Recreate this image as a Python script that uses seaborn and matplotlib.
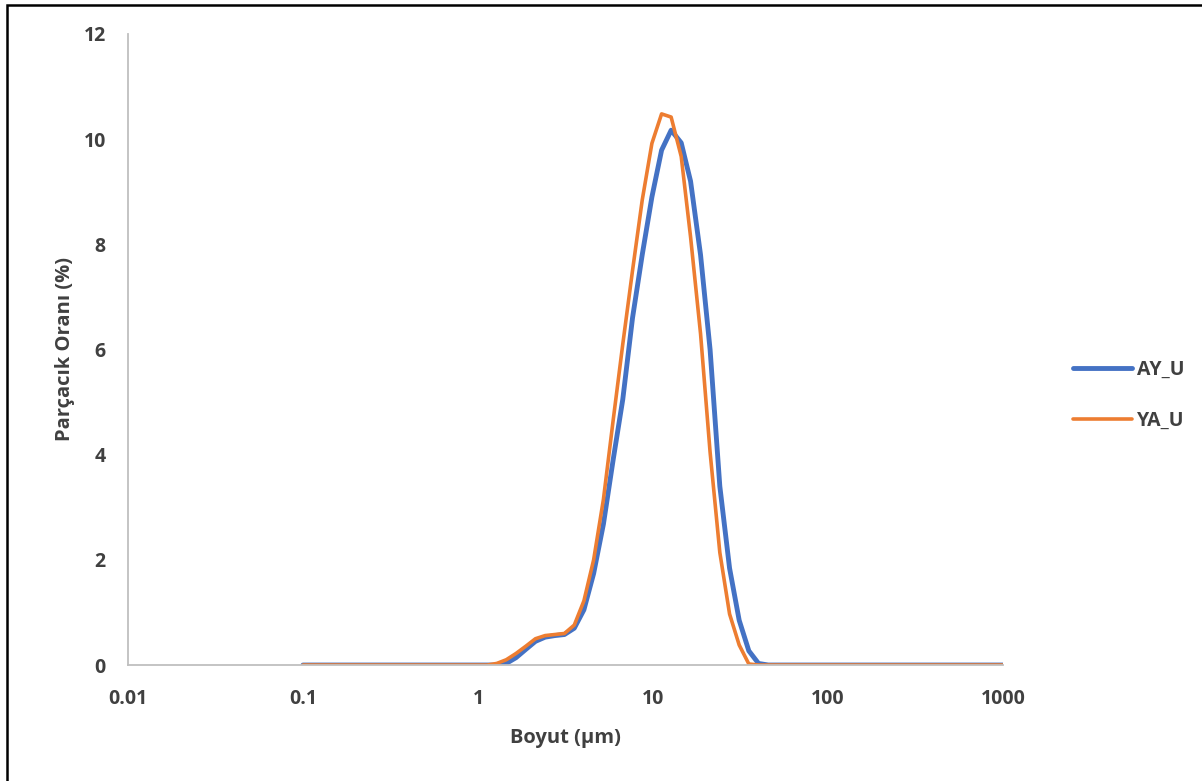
import numpy as np
import pandas as pd
import matplotlib
matplotlib.use("Agg")
import matplotlib.pyplot as plt
from matplotlib.patches import Rectangle
import seaborn as sns

# particle size classes (um) and volume fraction (%)
size_um = [0.1, 0.2, 0.5, 1.0, 1.13, 1.28, 1.45, 1.65, 1.88, 2.13, 2.42, 2.75, 3.12,
           3.55, 4.03, 4.58, 5.21, 5.92, 6.72, 7.64, 8.68, 9.86, 11.2, 12.7, 14.5,
           16.4, 18.7, 21.2, 24.1, 27.4, 31.1, 35.3, 40.1, 45.6, 51.8, 100, 500, 1000]
ay_u = [0, 0, 0, 0, 0, 0, 0.03, 0.14, 0.30, 0.45, 0.53, 0.56, 0.58,
        0.70, 1.05, 1.74, 2.68, 3.90, 5.05, 6.60, 7.80, 8.90, 9.79, 10.17, 9.93,
        9.20, 7.80, 6.00, 3.40, 1.84, 0.85, 0.27, 0.03, 0, 0, 0, 0, 0]
ya_u = [0, 0, 0, 0, 0, 0.03, 0.10, 0.22, 0.36, 0.50, 0.56, 0.58, 0.60,
        0.76, 1.22, 2.00, 3.15, 4.65, 6.10, 7.50, 8.84, 9.92, 10.48, 10.42, 9.67,
        8.14, 6.30, 4.05, 2.14, 0.97, 0.38, 0.02, 0, 0, 0, 0, 0, 0]
series_names = ["AY_U", "YA_U"]
x_ticks = [0.01, 0.1, 1, 10, 100, 1000]
x_tick_labels = ["0.01", "0.1", "1", "10", "100", "1000"]
y_ticks = [0, 2, 4, 6, 8, 10, 12]

df = pd.concat([
    pd.DataFrame({"size": size_um, "value": ay_u, "sample": series_names[0]}),
    pd.DataFrame({"size": size_um, "value": ya_u, "sample": series_names[1]}),
])

sns.set_style("white")
plt.rcParams["font.family"] = ["Open Sans", "DejaVu Sans"]
text_col = "#404040"
axis_col = "#BFBFBF"

fig = plt.figure(figsize=(12.02, 7.81), dpi=100)
ax = fig.add_axes([0.1065, 0.1485, 0.7279, 0.808])

sns.lineplot(data=df, x="size", y="value", hue="sample", sort=False,
             palette={"AY_U": "#4472C4", "YA_U": "#ED7D31"},
             size="sample", sizes={"AY_U": 3.5, "YA_U": 2.6},
             ax=ax, legend=False)

ax.set_xscale("log")
ax.set_xlim(0.01, 1000)
ax.set_ylim(0, 12)
ax.set_xticks(x_ticks)
ax.set_xticklabels(x_tick_labels)
ax.set_yticks(y_ticks)
ax.minorticks_off()
ax.tick_params(axis="x", length=0, pad=17, labelsize=14, labelcolor=text_col)
ax.tick_params(axis="y", length=0, pad=16, labelsize=14, labelcolor=text_col)
for lab in ax.get_xticklabels() + ax.get_yticklabels():
    lab.set_fontweight("bold")

sns.despine(ax=ax)
for side in ["left", "bottom"]:
    ax.spines[side].set_color(axis_col)
    ax.spines[side].set_linewidth(1.3)

ax.set_xlabel("Boyut (µm)", fontsize=14.5, fontweight="bold", color=text_col, labelpad=14)
ax.set_ylabel("Parçacık Oranı (%)", fontsize=14.5, fontweight="bold", color=text_col, labelpad=6)

# legend on the right side
handles = [plt.Line2D([], [], color="#4472C4", lw=3.5, solid_capstyle="round"),
           plt.Line2D([], [], color="#ED7D31", lw=2.6, solid_capstyle="round")]
leg = fig.legend(handles, series_names, loc="center left",
                 bbox_to_anchor=(0.885, 0.494), frameon=False, borderpad=0,
                 handlelength=3.0, handletextpad=0.25, labelspacing=1.6,
                 prop={"weight": "bold", "size": 14})
for t in leg.get_texts():
    t.set_color(text_col)

# chart border (only top/left visible in the crop)
fig.patches.append(Rectangle((0.006, -0.05), 1.2, 1.05 - 5 / 781, transform=fig.transFigure,
                             fill=False, edgecolor="black", linewidth=1.8))

fig.savefig("out.png", dpi=100)
